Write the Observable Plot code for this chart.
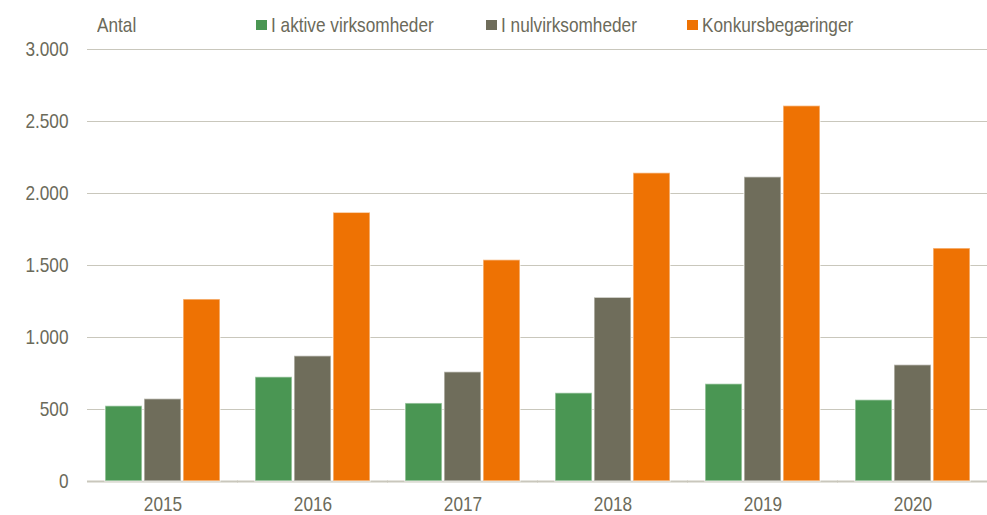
<!DOCTYPE html>
<html>
<head>
<meta charset="utf-8">
<script src="https://cdn.jsdelivr.net/npm/d3@7"></script>
<script src="https://cdn.jsdelivr.net/npm/@observablehq/plot@0.6"></script>
<style>
  html, body { margin: 0; padding: 0; background: #fff; }
  #wrap { width: 987px; font-family: "Liberation Sans", Arial, sans-serif; color: #6b6a5a; }
  #head { position: relative; z-index: 1; height: 20px; font-size: 21px; line-height: 21px; }
  #head .t { position: absolute; top: 14px; white-space: nowrap; transform: scaleX(0.82); transform-origin: 0 50%; }
  #head .sw { position: absolute; top: 20px; width: 11px; height: 10px; }
  svg { display: block; }
</style>
</head>
<body>
<div id="wrap">
  <div id="head"></div>
  <div id="chart"></div>
</div>
<script>
const years = ["2015", "2016", "2017", "2018", "2019", "2020"];
const seriesNames = ["I aktive virksomheder", "I nulvirksomheder", "Konkursbegæringer"];
const seriesColors = ["#4a9653", "#6f6d5b", "#ee7203"];
const aktive = [523, 724, 542, 613, 676, 565];
const nul = [572, 870, 759, 1276, 2113, 808];
const konkurs = [1264, 1866, 1537, 2141, 2607, 1618];
const yTicks = [0, 500, 1000, 1500, 2000, 2500, 3000];
const yLabel = "Antal";

const seriesValues = [aktive, nul, konkurs];
const data = [];
years.forEach((yr, i) => {
  seriesNames.forEach((s, j) => data.push({year: yr, series: s, value: seriesValues[j][i]}));
});

// header: axis title + legend
const head = document.getElementById("head");
const title = document.createElement("div");
title.className = "t"; title.style.left = "97px"; title.textContent = yLabel;
head.appendChild(title);
const legendLeft = [256, 486, 687];
seriesNames.forEach((s, j) => {
  const sw = document.createElement("div");
  sw.className = "sw"; sw.style.left = legendLeft[j] + "px"; sw.style.background = seriesColors[j];
  head.appendChild(sw);
  const t = document.createElement("div");
  t.className = "t"; t.style.left = (legendLeft[j] + 15) + "px"; t.textContent = s;
  head.appendChild(t);
});

const fmt = d => d3.format(",")(d).replace(/,/g, ".");
const gridColor = "#c9c7bc";

const chart = Plot.plot({
  width: 987,
  height: 495,
  marginTop: 29,
  marginBottom: 34,
  marginLeft: 87,
  marginRight: 0,
  style: {fontFamily: '"Liberation Sans", Arial, sans-serif', fontSize: "21px", color: "#6b6a5a"},
  fx: {domain: years, paddingInner: 0.22, paddingOuter: 0.11, label: null},
  x: {domain: seriesNames, paddingInner: 0.05, paddingOuter: 0, axis: null},
  y: {domain: [0, 3000], ticks: yTicks, label: null},
  color: {domain: seriesNames, range: seriesColors},
  marks: [
    Plot.ruleY(yTicks.filter(d => d > 0), {stroke: gridColor, strokeWidth: 1.2, insetLeft: -17, insetRight: -17}),
    Plot.ruleY([0], {stroke: gridColor, strokeWidth: 2, insetLeft: -17, insetRight: -17}),
    Plot.barY(data, {fx: "year", x: "series", y: "value", fill: "series", stroke: "white", strokeOpacity: 0.55, strokeWidth: 1.5}),
    Plot.axisY({ticks: yTicks, tickFormat: fmt, tickSize: 0, tickPadding: 36, label: null, fill: "#6b6a5a"}),
    Plot.axisFx({anchor: "bottom", tickSize: 0, tickPadding: 15, label: null, fill: "#6b6a5a"})
  ]
});
document.getElementById("chart").appendChild(chart);
// condense the axis labels horizontally (no narrow font installed)
d3.select(chart).selectAll("text").each(function() {
  const len = this.getComputedTextLength();
  if (len > 0) {
    this.setAttribute("textLength", (len * 0.82).toFixed(2));
    this.setAttribute("lengthAdjust", "spacingAndGlyphs");
  }
});
</script>
</body>
</html>
